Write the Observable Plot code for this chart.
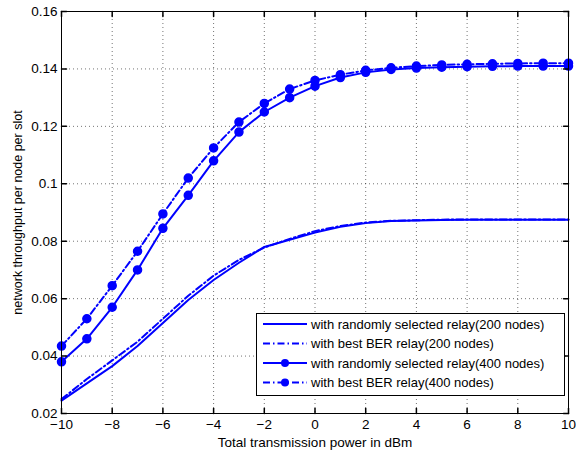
<!DOCTYPE html>
<html>
<head>
<meta charset="utf-8">
<script src="https://cdn.jsdelivr.net/npm/d3@7"></script>
<script src="https://cdn.jsdelivr.net/npm/@observablehq/plot@0.6"></script>
<style>
  html, body { margin: 0; padding: 0; background: #fff; }
  #wrap { position: relative; width: 576px; height: 451px; font-family: "Liberation Sans", Arial, Helvetica, sans-serif; }
  #legend { position: absolute; left: 256px; top: 313px; }
</style>
</head>
<body>
<div id="wrap"></div>
<script>
const powerDbm = [-10, -9, -8, -7, -6, -5, -4, -3, -2, -1, 0, 1, 2, 3, 4, 5, 6, 7, 8, 9, 10];
const rand200 = [0.0245, 0.0305, 0.0365, 0.0435, 0.0515, 0.0595, 0.0665, 0.0725, 0.0780, 0.0805, 0.0830, 0.0850, 0.0863, 0.0870, 0.0872, 0.0874, 0.0875, 0.0875, 0.0875, 0.0875, 0.0875];
const best200 = [0.0250, 0.0320, 0.0385, 0.0450, 0.0530, 0.0610, 0.0680, 0.0735, 0.0778, 0.0808, 0.0835, 0.0853, 0.0865, 0.0871, 0.0873, 0.0875, 0.0876, 0.0876, 0.0876, 0.0876, 0.0876];
const rand400 = [0.0380, 0.0460, 0.0570, 0.0700, 0.0845, 0.0960, 0.1080, 0.1180, 0.1250, 0.1300, 0.1340, 0.1370, 0.1388, 0.1398, 0.1403, 0.1406, 0.1408, 0.1409, 0.1410, 0.1410, 0.1410];
const best400 = [0.0435, 0.0530, 0.0645, 0.0765, 0.0895, 0.1020, 0.1125, 0.1215, 0.1280, 0.1330, 0.1360, 0.1380, 0.1395, 0.1404, 0.1410, 0.1414, 0.1416, 0.1418, 0.1419, 0.1420, 0.1420];
const seriesNames = [
  "with randomly selected relay(200 nodes)",
  "with best BER relay(200 nodes)",
  "with randomly selected relay(400 nodes)",
  "with best BER relay(400 nodes)"
];
const xTicks = [-10, -8, -6, -4, -2, 0, 2, 4, 6, 8, 10];
const yTicks = [0.02, 0.04, 0.06, 0.08, 0.1, 0.12, 0.14, 0.16];
const xLabel = "Total transmission power in dBm";
const yLabel = "network throughput per node per slot";

const blue = "#0000ff";
const dashDot = "7,3,1.5,3";
const seriesStyle = [
  {dash: null, marker: false},
  {dash: dashDot, marker: false},
  {dash: null, marker: true},
  {dash: dashDot, marker: true}
];
const seriesValues = [rand200, best200, rand400, best400];

const rows = [];
seriesValues.forEach((vals, i) => {
  vals.forEach((v, j) => rows.push({series: seriesNames[i], idx: i, x: powerDbm[j], y: v}));
});

const tickShape = {draw(context, l) { context.moveTo(0, 0); context.lineTo(0, -l); }};
const fmtY = d => String(+d.toFixed(2));

const lineMarks = seriesValues.map((vals, i) =>
  Plot.line(rows.filter(r => r.idx === i), {
    x: "x", y: "y", stroke: blue, strokeWidth: 2,
    strokeDasharray: seriesStyle[i].dash || undefined,
    strokeLinejoin: "round"
  })
);
const dotMarks = seriesValues.map((vals, i) => seriesStyle[i].marker ?
  Plot.dot(rows.filter(r => r.idx === i), {x: "x", y: "y", r: 4, fill: blue, stroke: blue}) : null
).filter(Boolean);

const chart = Plot.plot({
  width: 576,
  height: 451,
  marginLeft: 61,
  marginRight: 8,
  marginTop: 11,
  marginBottom: 38,
  style: {fontFamily: "'Liberation Sans', Arial, Helvetica, sans-serif", fontSize: "13.5px", color: "#000", background: "#fff"},
  x: {domain: [-10, 10]},
  y: {domain: [0.02, 0.16]},
  marks: [
    Plot.gridX(xTicks, {stroke: "#000", strokeOpacity: 0.55, strokeDasharray: "1,3"}),
    Plot.gridY(yTicks, {stroke: "#000", strokeOpacity: 0.55, strokeDasharray: "1,3"}),
    ...lineMarks,
    ...dotMarks,
    Plot.frame({stroke: "#000", strokeWidth: 1}),
    Plot.vector(xTicks, {x: d => d, frameAnchor: "bottom", length: 5, rotate: 0, anchor: "start", shape: tickShape, stroke: "#000"}),
    Plot.vector(xTicks, {x: d => d, frameAnchor: "top", length: 5, rotate: 180, anchor: "start", shape: tickShape, stroke: "#000"}),
    Plot.vector(yTicks, {y: d => d, frameAnchor: "left", length: 5, rotate: 90, anchor: "start", shape: tickShape, stroke: "#000"}),
    Plot.vector(yTicks, {y: d => d, frameAnchor: "right", length: 5, rotate: -90, anchor: "start", shape: tickShape, stroke: "#000"}),
    Plot.axisX(xTicks, {tickSize: 0, tickPadding: 6, label: null, fontSize: 13.5}),
    Plot.axisY(yTicks, {tickSize: 0, tickPadding: 4, tickFormat: fmtY, label: null, fontSize: 13.5}),
    Plot.text([xLabel], {frameAnchor: "bottom", dy: 29, fontSize: 13.5, lineAnchor: "middle", textAnchor: "middle", text: d => d}),
    Plot.text([yLabel], {frameAnchor: "left", dx: -44, rotate: -90, fontSize: 12.5, textAnchor: "middle", lineAnchor: "middle", text: d => d})
  ]
});

const wrap = document.getElementById("wrap");
wrap.appendChild(chart);

// Legend (inside the plot area, as in the reference)
const lw = 308, lh = 82;
const leg = d3.create("svg").attr("id", "legend").attr("width", lw + 1).attr("height", lh + 1)
  .style("font-family", "'Liberation Sans', Arial, Helvetica, sans-serif");
leg.append("rect").attr("x", 0.5).attr("y", 0.5).attr("width", lw).attr("height", lh)
  .attr("fill", "#fff").attr("stroke", "#000").attr("stroke-width", 1);
const rowY = [11, 30.5, 50, 69.5];
seriesNames.forEach((name, i) => {
  const g = leg.append("g").attr("transform", `translate(0,${rowY[i]})`);
  g.append("line").attr("x1", 7).attr("x2", 51).attr("y1", 0).attr("y2", 0)
    .attr("stroke", blue).attr("stroke-width", 2)
    .attr("stroke-dasharray", seriesStyle[i].dash);
  if (seriesStyle[i].marker) g.append("circle").attr("cx", 29).attr("cy", 0).attr("r", 4).attr("fill", blue);
  g.append("text").attr("x", 55).attr("y", 0).attr("dy", "0.35em").attr("font-size", 13).text(name);
});
wrap.appendChild(leg.node());
</script>
</body>
</html>
